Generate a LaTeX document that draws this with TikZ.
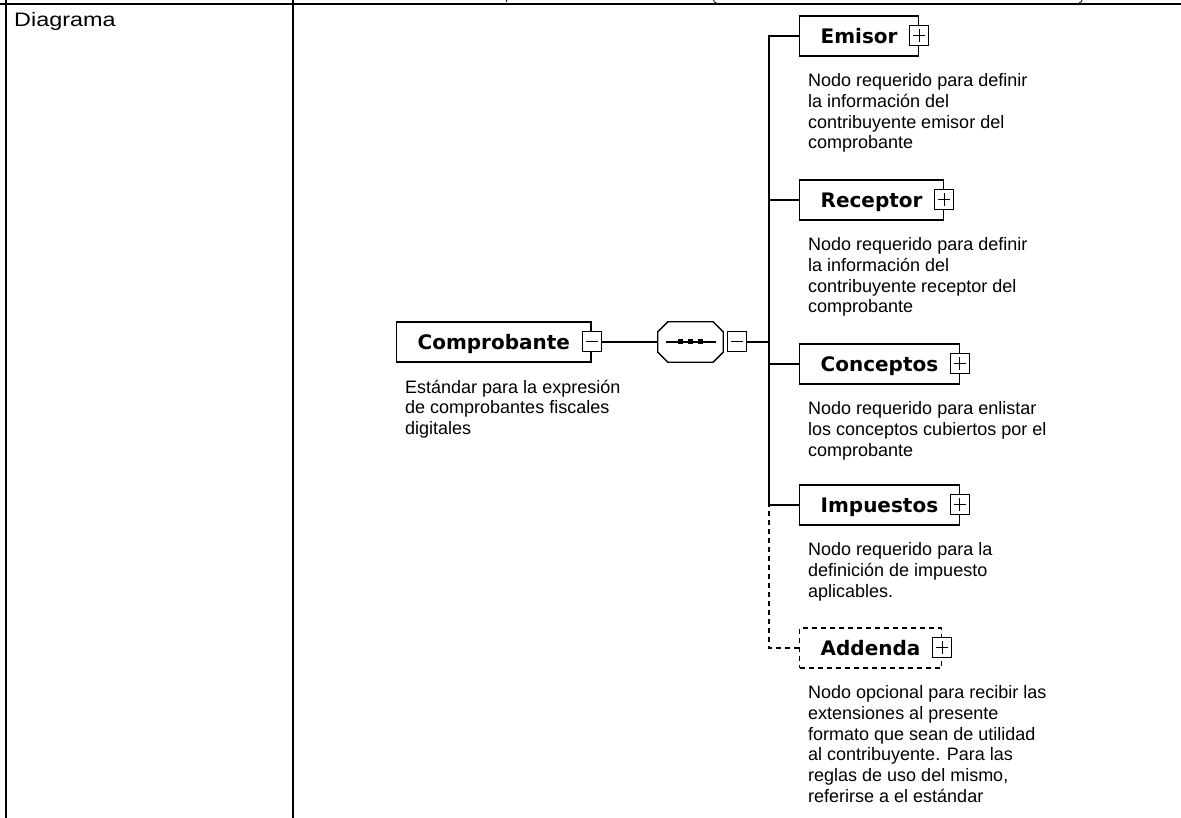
\documentclass[tikz,border=0pt]{standalone}
\usepackage{fontspec}
\setmainfont{Liberation Sans}
\newfontfamily\elemfont{DejaVu Sans}
\usetikzlibrary{positioning}
\tikzset{>=stealth}
\tikzset{
  elem/.style={draw, line width=1.3pt, anchor=west, minimum height=40pt, inner xsep=21pt,
    text height=14.5pt, text depth=0pt, font=\elemfont\bfseries\fontsize{20}{24}\selectfont},
  optelem/.style={elem, dash pattern=on 5pt off 4pt},
  desc/.style={align=left, inner sep=0pt, font=\fontsize{18}{20.7}\selectfont},
  togbox/.style={draw, fill=white, line width=1pt, minimum width=19pt, minimum height=20pt, inner sep=0pt},
  togminus/.style={togbox, path picture={
    \draw[line width=1pt] ([xshift=3.5pt]path picture bounding box.west) -- ([xshift=-3.5pt]path picture bounding box.east);}},
  togplus/.style={togbox, path picture={
    \draw[line width=1pt] ([xshift=3.5pt]path picture bounding box.west) -- ([xshift=-3.5pt]path picture bounding box.east)
      ([yshift=-3.5pt]path picture bounding box.north) -- ([yshift=3.5pt]path picture bounding box.south);}},
  wire/.style={line width=1.3pt},
  tableline/.style={line width=2pt}
}

\begin{document}
\begin{tikzpicture}[x=1pt, y=1pt]
    \useasboundingbox (0,0) rectangle (1181,818);
    \draw[tableline] (0,814) -- (1181,814);
    \draw[tableline] (6,0) -- (6,818);
    \draw[tableline] (293,0) -- (293,818);
    \draw[line width=0.8pt] (506,818) -- (506,815.5);
    \draw[line width=0.8pt] (713.5,818) .. controls (714,816) .. (716.5,815);
    \draw[line width=0.8pt] (1082,818) .. controls (1081.5,816) .. (1079,815);
    \node[anchor=base west, inner sep=0pt, font=\fontsize{19.5}{23}\selectfont] (diagrama) at (14,791) {\scalebox{1.2}[1]{Diagrama}};

    \node[elem] (comp) at (396,476) {Comprobante};
    \node[togminus] (comp-tog) at (comp.east) {};
    \node[desc, below right=17pt and 9pt of comp.south west] (comp-desc)
      {Estándar para la expresión\\de comprobantes fiscales\\digitales};

    \node[minimum width=65pt, minimum height=40pt, inner sep=0pt] (seq) at (690.5,476) {};
    \draw[wire] ([yshift=10pt]seq.south west) -- ([yshift=-10pt]seq.north west) -- ([xshift=10pt]seq.north west)
      -- ([xshift=-10pt]seq.north east) -- ([yshift=-10pt]seq.north east) -- ([yshift=10pt]seq.south east)
      -- ([xshift=-10pt]seq.south east) -- ([xshift=10pt]seq.south west) -- cycle;
    \draw[wire] ([xshift=-25pt]seq.center) -- ([xshift=25pt]seq.center);
    \foreach \dx in {-10,0,10}
      \fill ([xshift=\dx pt]seq.center) +(-2.5,-2.5) rectangle +(2.5,2.5);
    \node[togminus, right=4pt of seq] (seq-tog) {};
    \coordinate (bus) at (769,476);

    \node[elem] (emisor) at (799,782) {Emisor};
    \node[elem] (receptor) at (799,618) {Receptor};
    \node[elem] (conceptos) at (799,454) {Conceptos};
    \node[elem] (impuestos) at (799,313) {Impuestos};
    \node[optelem] (addenda) at (799,170) {Addenda};

    \draw[wire] (comp-tog) -- (seq);
    \draw[wire] (seq-tog) -- (bus);
    \foreach \n in {emisor,receptor,conceptos,impuestos}
      \draw[wire] (\n.west) -| (bus);
    \draw[wire, dash pattern=on 5pt off 4pt] (addenda.west) -| (impuestos.west -| bus);
    \foreach \n in {emisor,receptor,conceptos,impuestos,addenda}
      \node[togplus] (\n-tog) at (\n.east) {};

    \node[desc, below right=17pt and 9pt of emisor.south west] (emisor-desc)
      {Nodo requerido para definir\\la información del\\contribuyente emisor del\\comprobante};
    \node[desc, below right=17pt and 9pt of receptor.south west] (receptor-desc)
      {Nodo requerido para definir\\la información del\\contribuyente receptor del\\comprobante};
    \node[desc, below right=17pt and 9pt of conceptos.south west] (conceptos-desc)
      {Nodo requerido para enlistar\\los conceptos cubiertos por el\\comprobante};
    \node[desc, below right=17pt and 9pt of impuestos.south west] (impuestos-desc)
      {Nodo requerido para la\\definición de impuesto\\aplicables.};
    \node[desc, below right=17pt and 9pt of addenda.south west] (addenda-desc)
      {Nodo opcional para recibir las\\extensiones al presente\\formato que sean de utilidad\\al contribuyente. Para las\\reglas de uso del mismo,\\referirse a el estándar};
\end{tikzpicture}
\end{document}
